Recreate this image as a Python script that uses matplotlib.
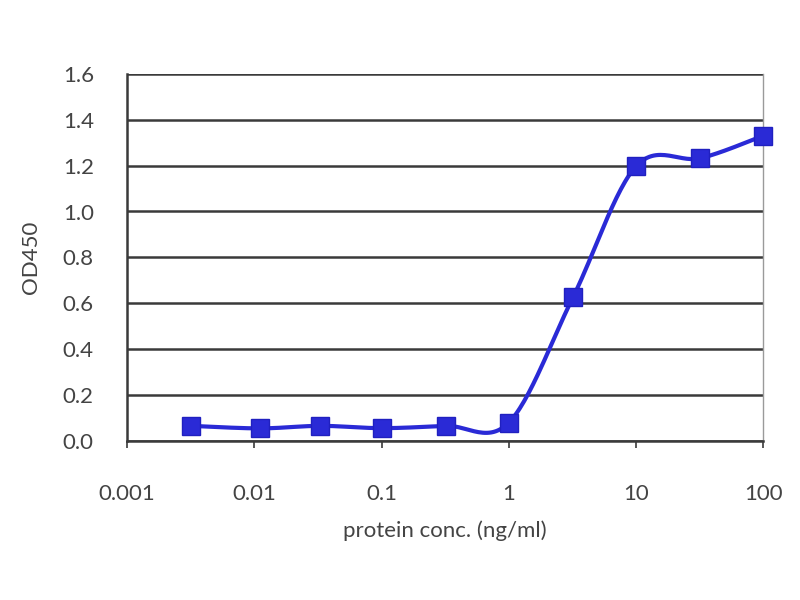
import numpy as np
import matplotlib.pyplot as plt
from matplotlib.ticker import FixedLocator, FixedFormatter

# protein dilution series (half-log steps) and OD450 readings
conc = [0.0032, 0.011, 0.033, 0.1, 0.32, 1.0, 3.2, 10.0, 32.0, 100.0]
od450 = [0.066, 0.055, 0.066, 0.056, 0.066, 0.080, 0.627, 1.197, 1.232, 1.330]

x_ticks = [0.001, 0.01, 0.1, 1, 10, 100]
x_tick_labels = ["0.001", "0.01", "0.1", "1", "10", "100"]
y_ticks = [0.0, 0.2, 0.4, 0.6, 0.8, 1.0, 1.2, 1.4, 1.6]

plt.rcParams['font.family'] = ['Lato', 'DejaVu Sans']


def smooth_line(xs, ys, steps=30):
    # Excel-style smoothed line: Catmull-Rom through the points in log-x space
    lx = np.log10(xs)
    ly = np.asarray(ys, dtype=float)
    p = np.column_stack([lx, ly])
    p = np.vstack([p[0], p, p[-1]])
    out = []
    for i in range(1, len(p) - 2):
        p0, p1, p2, p3 = p[i - 1], p[i], p[i + 1], p[i + 2]
        c1 = p1 + (p2 - p0) / 6.0
        c2 = p2 - (p3 - p1) / 6.0
        t = np.linspace(0, 1, steps)[:, None]
        seg = ((1 - t) ** 3) * p1 + 3 * ((1 - t) ** 2) * t * c1 + 3 * (1 - t) * t ** 2 * c2 + t ** 3 * p2
        out.append(seg if i == 1 else seg[1:])
    out = np.vstack(out)
    return 10 ** out[:, 0], out[:, 1]


fig = plt.figure(figsize=(8, 6), dpi=100)
ax = fig.add_axes([0.159, 0.265, 0.795, 0.612])

sx, sy = smooth_line(conc, od450)
ax.plot(sx, sy, color='#2a2ad6', linewidth=3, zorder=3, clip_on=False)
ax.plot(conc, od450, linestyle='none', marker='s', markersize=13,
        color='#2a2ad6', markeredgecolor='#2020c0', zorder=4, clip_on=False)

ax.set_xscale('log')
ax.set_xlim(0.001, 100)
ax.set_ylim(0, 1.6)
ax.xaxis.set_major_locator(FixedLocator(x_ticks))
ax.xaxis.set_major_formatter(FixedFormatter(x_tick_labels))
ax.xaxis.set_minor_locator(FixedLocator([]))
ax.set_yticks(y_ticks)
ax.set_yticklabels([f"{v:.1f}" for v in y_ticks])

ax.yaxis.grid(True, color='#3a3a3a', linewidth=1.8)
ax.set_axisbelow(True)

for side in ['left', 'bottom']:
    ax.spines[side].set_color('#3a3a3a')
    ax.spines[side].set_linewidth(1.8)
ax.spines['right'].set_color('#9a9a9a')
ax.spines['right'].set_linewidth(1)
ax.spines['top'].set_visible(False)

ax.tick_params(axis='both', colors='#3a3a3a', labelcolor='#444444', labelsize=16,
               length=5, width=1.2)
ax.tick_params(axis='x', pad=26)
ax.tick_params(axis='y', pad=24, length=0)

ax.set_xlabel('protein conc. (ng/ml)', fontsize=16, color='#444444', labelpad=12)
ax.set_ylabel('OD450', fontsize=16, color='#444444', labelpad=16)

plt.savefig('out.png', dpi=100)
